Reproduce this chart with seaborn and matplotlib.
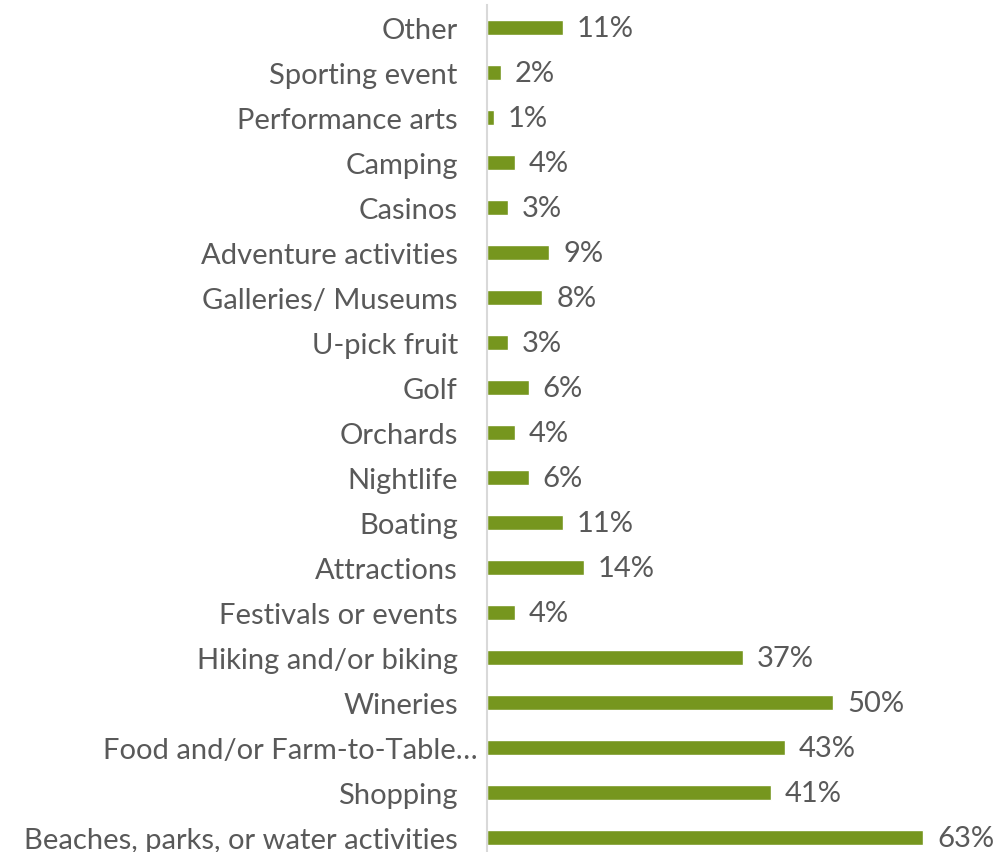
import matplotlib
matplotlib.use("Agg")
import matplotlib.pyplot as plt
import matplotlib.transforms as mtransforms
import pandas as pd
import seaborn as sns

categories = [
    "Other", "Sporting event", "Performance arts", "Camping", "Casinos",
    "Adventure activities", "Galleries/ Museums", "U-pick fruit", "Golf",
    "Orchards", "Nightlife", "Boating", "Attractions", "Festivals or events",
    "Hiking and/or biking", "Wineries", "Food and/or Farm-to-Table\u2026",
    "Shopping", "Beaches, parks, or water activities",
]
percent = [11, 2, 1, 4, 3, 9, 8, 3, 6, 4, 6, 11, 14, 4, 37, 50, 43, 41, 63]

df = pd.DataFrame({"activity": categories, "pct": percent})

sns.set_theme(style="white")
plt.rcParams["font.family"] = ["Lato", "DejaVu Sans"]

BAR = "#76961E"
TEXT = "#595959"

fig = plt.figure(figsize=(9.99, 8.53), dpi=100)
ax = fig.add_axes([0.4875, -0.0094, 0.5125, 1.0023])

sns.barplot(data=df, x="pct", y="activity", orient="h", color=BAR,
            saturation=1, width=0.35, ax=ax)

ax.set_xlim(0, 73.9)
ax.set_ylim(len(categories) - 0.5, -0.5)
ax.set_xlabel("")
ax.set_ylabel("")
ax.set_xticks([])

for side in ("top", "right", "bottom"):
    ax.spines[side].set_visible(False)
ax.spines["left"].set_color("#D9D9D9")
ax.spines["left"].set_linewidth(1.5)

ax.tick_params(axis="y", length=0, pad=21, labelsize=21, labelcolor=TEXT)

ax.bar_label(ax.containers[0], labels=[f"{v}%" for v in percent],
             padding=10, fontsize=21, color=TEXT)

# the truncated label sits a little closer to the axis
for lbl in ax.get_yticklabels():
    if lbl.get_text().endswith("\u2026"):
        lbl.set_transform(lbl.get_transform() +
                          mtransforms.ScaledTranslation(14 / 72, 0, fig.dpi_scale_trans))

fig.savefig("out.png", dpi=100)
